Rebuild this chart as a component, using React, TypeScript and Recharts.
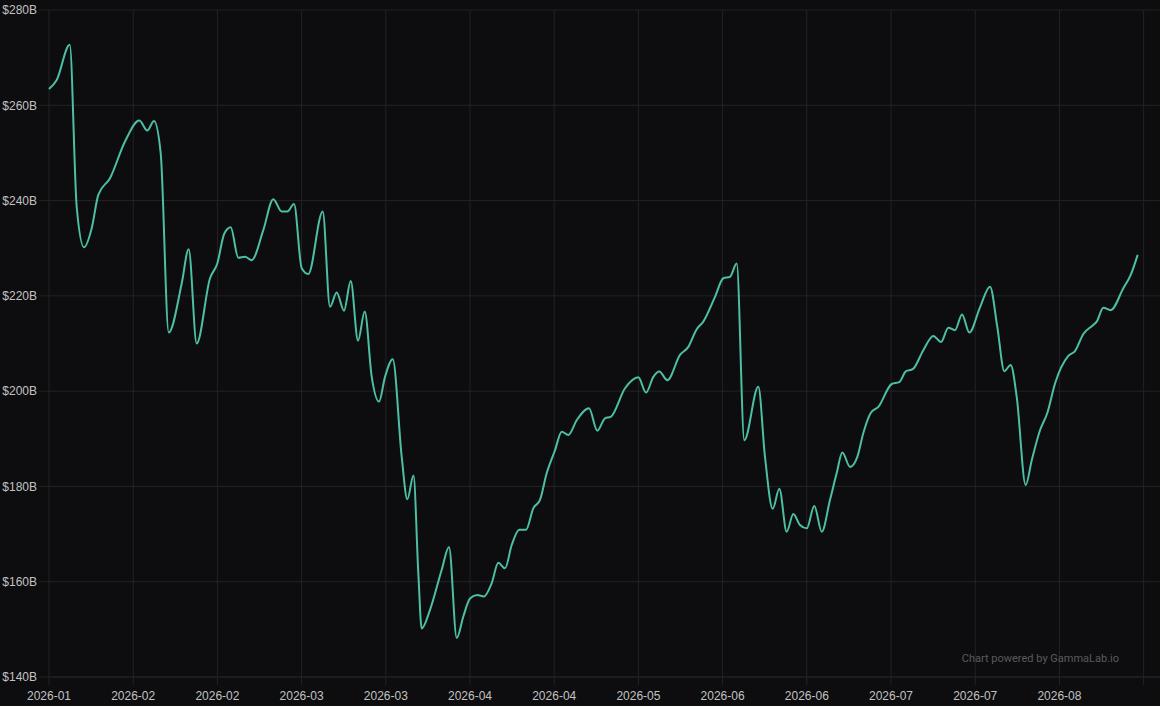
import { LineChart, Line, XAxis, YAxis, CartesianGrid } from "recharts";

// day offsets from the start of the series (18 days per axis tick)
const days = [
  0, 1.65, 4.43, 5.92, 7.48, 9.13, 10.54, 13.04, 16.25, 19.3, 21.01, 22.45, 23.88,
  25.59, 28.37, 29.86, 31.57, 34.42, 35.98, 37.48, 38.84, 40.47, 41.9, 43.33, 45.81,
  47.95, 49.75, 50.94, 52.38, 54.02, 55.43, 58.51, 60.07, 61.5, 63.06, 64.5, 66.06,
  67.49, 68.99, 70.55, 71.83, 73.48, 75.4, 76.6, 77.92, 78.95, 79.67, 81.45, 83.95,
  85.51, 87.16, 88.57, 90.0, 91.56, 92.99, 94.64, 96.05, 97.48, 98.91, 100.54,
  101.97, 103.53, 104.96, 106.4, 108.17, 109.6, 111.01, 112.81, 115.44, 117.21,
  118.86, 120.08, 123.14, 125.98, 127.63, 129.19, 130.47, 132.18, 134.89, 136.67,
  138.46, 139.87, 142.37, 144.15, 145.58, 147.01, 148.64, 151.63, 153.06, 154.71,
  156.12, 157.7, 159.11, 160.54, 161.98, 163.6, 165.19, 166.96, 168.39, 169.59,
  171.24, 172.8, 174.08, 175.66, 177.29, 180.15, 181.77, 183.21, 184.64, 186.9,
  189.04, 190.69, 192.25, 193.68, 195.18, 196.74, 199.02, 201.16, 202.72, 204.22,
  205.58, 206.87, 208.79, 210.08, 211.85, 213.41, 215.06, 217.9, 219.33, 221.11,
  223.24, 223.97, 225.38, 226.96, 229.66, 231.24, 232.73,
];

// value in billions of dollars
const values = [
  263.4, 265.3, 272.7, 238.7, 230.2, 234.2, 241.2, 244.7, 252.4, 256.8, 254.7, 256.7, 249.9,
  212.3, 222.6, 229.8, 210.0, 223.7, 226.8, 233.1, 234.4, 228.0, 228.2, 227.5, 233.8,
  240.3, 237.7, 237.7, 239.3, 225.8, 224.6, 237.7, 217.7, 220.7, 216.9, 223.1, 210.6,
  216.7, 203.0, 197.8, 203.0, 206.7, 186.2, 177.3, 182.3, 161.8, 150.2, 154.1, 162.5,
  167.3, 148.2, 152.7, 156.5, 157.2, 156.9, 159.7, 164.0, 162.8, 167.7, 170.9,
  170.9, 175.4, 177.2, 182.8, 187.6, 191.5, 190.8, 193.9, 196.4, 191.7,
  194.3, 194.6, 200.6, 202.9, 199.7, 203.0, 204.1, 202.3, 207.6, 209.3,
  213.0, 214.6, 219.8, 223.7, 224.0, 226.8, 189.7, 200.9, 186.2, 175.3,
  179.5, 170.5, 174.2, 171.9, 171.2, 175.9, 170.5, 177.2, 182.8, 187.1,
  184.1, 186.2, 191.2, 195.4, 196.7, 201.5, 201.9, 204.2, 204.6, 208.6,
  211.6, 210.3, 213.3, 212.8, 216.1, 212.3, 217.6, 221.9, 213.5, 204.2,
  205.5, 198.8, 180.3, 185.5, 191.8, 195.4, 201.6, 207.4, 208.4, 212.0,
  213.9, 214.6, 217.5, 217.0, 221.6, 224.4, 228.6,
];

const xTicks = [0, 18, 36, 54, 72, 90, 108, 126, 144, 162, 180, 198, 216, 234];
const xLabels = [
  "2026-01", "2026-02", "2026-02", "2026-03", "2026-03", "2026-04", "2026-04",
  "2026-05", "2026-06", "2026-06", "2026-07", "2026-07", "2026-08", "",
];
const yTicks = [140, 160, 180, 200, 220, 240, 260, 280];

const data = days.map((t, i) => ({ t, value: values[i] }));

const grid = "#232326";
const tickStyle = { fill: "#c2c2c2", fontSize: 12, fontFamily: "Liberation Sans, Arial, sans-serif" };

export default function App() {
  return (
    <div style={{ position: "fixed", inset: 0, background: "#0d0d0f" }}>
      <LineChart width={1160} height={706} data={data} margin={{ top: 10, right: 0, left: 0, bottom: 0 }}>
        <CartesianGrid stroke={grid} horizontalValues={yTicks} verticalValues={xTicks} />
        <XAxis
          dataKey="t"
          type="number"
          domain={[0, 237.5]}
          ticks={xTicks}
          tickFormatter={(v: number) => xLabels[xTicks.indexOf(v)] ?? ""}
          height={29}
          axisLine={{ stroke: grid }}
          tickLine={{ stroke: grid }}
          tickSize={8}
          tickMargin={6}
          tick={tickStyle}
          interval={0}
        />
        <YAxis
          domain={[140, 280]}
          ticks={yTicks}
          tickFormatter={(v: number) => `$${v}B`}
          width={49}
          axisLine={false}
          tickLine={{ stroke: grid }}
          tickSize={10}
          tickMargin={2}
          tick={tickStyle}
          interval={0}
        />
        <Line
          type="monotone"
          dataKey="value"
          stroke="#4cbfa5"
          strokeWidth={2}
          dot={false}
          isAnimationActive={false}
        />
        <text
          x={1119}
          y={659}
          textAnchor="end"
          dominantBaseline="middle"
          fill="#5a5a5e"
          fontSize={11}
          fontFamily="Roboto, Arial, sans-serif"
        >
          Chart powered by GammaLab.io
        </text>
      </LineChart>
    </div>
  );
}
